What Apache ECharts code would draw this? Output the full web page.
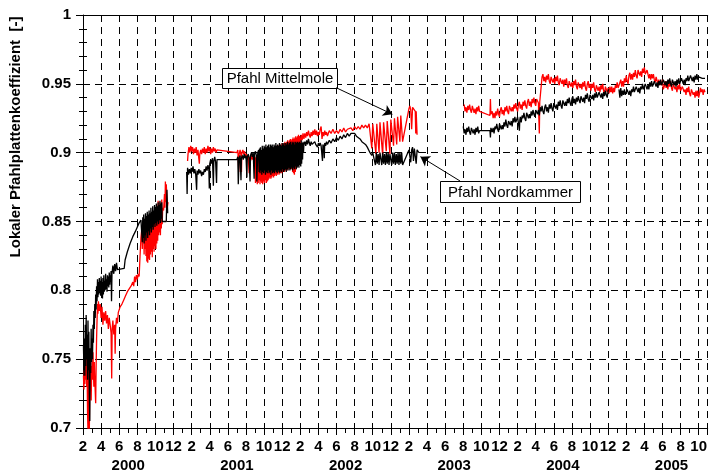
<!DOCTYPE html>
<html>
<head>
<meta charset="utf-8">
<script src="https://cdn.jsdelivr.net/npm/echarts@6/dist/echarts.min.js"></script>
<style>
html, body { margin: 0; padding: 0; background: #fff; }
#chart { width: 710px; height: 474px; }
</style>
</head>
<body>
<div id="chart"></div>
<script>
// Time axis in months counted from December 1999 (2 = Feb 2000, 14 = Feb 2001, ...)
const yearLabels = ['2000', '2001', '2002', '2003', '2004', '2005'];
const yearLabelMonths = [7, 19, 31, 43, 55, 67];
const yTitle = 'Lokaler Pfahlplattenkoeffizient  [-]';

// Pfahl Nordkammer  [month, coefficient]
const nordkammer2000 = [
  [2.05,0.76],[2.1,0.742],[2.15,0.765],[2.2,0.738],[2.25,0.775],[2.3,0.745],[2.35,0.782],[2.4,0.75],[2.45,0.768],[2.5,0.735],
  [2.55,0.778],[2.6,0.742],[2.65,0.77],[2.7,0.725],[2.75,0.705],[2.8,0.758],[2.85,0.74],[2.9,0.772],[2.95,0.748],[3.0,0.765],
  [3.05,0.75],[3.1,0.775],[3.15,0.762],[3.2,0.785],[3.25,0.772],[3.3,0.79],[3.35,0.78],[3.4,0.797],[3.45,0.786],[3.5,0.803],
  [3.55,0.792],[3.6,0.808],[3.65,0.795],[3.7,0.806],[3.75,0.797],[3.8,0.809],[3.85,0.798],[3.9,0.807],[3.95,0.796],[4.0,0.81],
  [4.05,0.798],[4.1,0.806],[4.15,0.794],[4.2,0.809],[4.25,0.797],[4.3,0.811],[4.35,0.799],[4.4,0.807],[4.45,0.8],[4.5,0.812],
  [4.55,0.801],[4.6,0.808],[4.65,0.799],[4.7,0.811],[4.75,0.803],[4.8,0.81],[4.85,0.802],[4.9,0.813],[4.95,0.804],[5.0,0.811],
  [5.05,0.806],[5.1,0.814],[5.15,0.792],[5.2,0.812],[5.3,0.818],[5.4,0.812],[5.5,0.819],[5.6,0.814],[5.7,0.82],[5.8,0.815],
  [5.9,0.816],[6.55,0.816],[6.65,0.822],[6.9,0.828],[7.2,0.834],[7.5,0.839],[7.8,0.843],[8.0,0.846],[8.2,0.849],[8.4,0.851],
  [8.55,0.835],[8.6,0.853],[8.65,0.838],[8.7,0.855],[8.75,0.834],[8.8,0.852],[8.85,0.84],[8.9,0.856],[8.95,0.836],[9.0,0.854],
  [9.05,0.842],[9.1,0.857],[9.15,0.838],[9.2,0.855],[9.25,0.843],[9.3,0.858],[9.35,0.84],[9.4,0.856],[9.45,0.845],[9.5,0.86],
  [9.55,0.842],[9.6,0.857],[9.65,0.846],[9.7,0.861],[9.75,0.844],[9.8,0.858],[9.85,0.848],[9.9,0.862],[9.95,0.846],[10.0,0.86],
  [10.05,0.849],[10.1,0.863],[10.15,0.847],[10.2,0.861],[10.25,0.85],[10.3,0.864],[10.35,0.848],[10.4,0.862],[10.45,0.851],[10.5,0.865],
  [10.55,0.849],[10.6,0.863],[10.65,0.852],[10.7,0.864],[10.75,0.85],[10.8,0.851],[11.2,0.85],[11.27,0.873],[11.35,0.856]
];
const nordkammer2001 = [
  [13.45,0.886],[13.5,0.87],[13.55,0.889],[13.65,0.884],[13.75,0.888],[13.85,0.885],[13.95,0.889],[14.05,0.886],[14.15,0.89],[14.25,0.885],
  [14.35,0.888],[14.45,0.884],[14.55,0.873],[14.6,0.887],[14.7,0.884],[14.8,0.888],[14.9,0.885],[15.0,0.887],[15.1,0.883],[15.2,0.886],
  [15.3,0.884],[15.4,0.888],[15.5,0.886],[15.6,0.89],[15.7,0.887],[15.8,0.891],[15.9,0.888],[15.95,0.874],[16.0,0.892],[16.1,0.895],
  [16.2,0.892],[16.3,0.896],[16.4,0.876],[16.45,0.894],[16.55,0.897],[16.65,0.893],[16.75,0.878],[16.8,0.895],[16.9,0.894],[19.0,0.895],
  [19.1,0.897],[19.15,0.877],[19.25,0.896],[19.35,0.898],[19.45,0.88],[19.5,0.896],[19.6,0.898],[19.7,0.895],[19.8,0.899],[19.9,0.896],
  [20.0,0.898],[20.1,0.882],[20.15,0.897],[20.25,0.899],[20.35,0.896],[20.45,0.879],[20.5,0.898],[20.6,0.9],[20.7,0.897],[20.8,0.9],
  [20.9,0.881],[20.95,0.899],[21.05,0.901],[21.15,0.898],[21.2,0.879],[21.3,0.9],[21.4,0.902],
  [21.45,0.886],[21.5,0.903],[21.55,0.885],[21.6,0.904],[21.65,0.887],[21.7,0.902],[21.75,0.884],[21.8,0.905],[21.85,0.886],[21.9,0.903],
  [21.95,0.885],[22.0,0.905],[22.05,0.887],[22.1,0.904],[22.15,0.884],[22.2,0.906],[22.25,0.886],[22.3,0.904],[22.35,0.885],[22.4,0.905],
  [22.45,0.887],[22.5,0.906],[22.55,0.885],[22.6,0.904],[22.65,0.886],[22.7,0.906],[22.75,0.884],[22.8,0.905],[22.85,0.887],[22.9,0.906],
  [22.95,0.885],[23.0,0.904],[23.05,0.886],[23.1,0.906],[23.15,0.885],[23.2,0.905],[23.25,0.887],[23.3,0.907],[23.35,0.886],[23.4,0.905],
  [23.45,0.885],[23.5,0.906],[23.55,0.887],[23.6,0.905],[23.65,0.886],[23.7,0.907],[23.75,0.885],[23.8,0.906],[23.85,0.887],[23.9,0.905],
  [23.95,0.886],[24.0,0.907],[24.05,0.888],[24.1,0.906],[24.15,0.886],[24.2,0.907],[24.25,0.887],[24.3,0.905],[24.35,0.888],[24.4,0.907],
  [24.45,0.886],[24.5,0.906],[24.55,0.888],[24.6,0.908],[24.65,0.887],[24.7,0.906],[24.75,0.889],[24.8,0.907],[24.85,0.887],[24.9,0.908],
  [24.95,0.888],[25.0,0.906],[25.05,0.889],[25.1,0.908],[25.15,0.887],[25.2,0.907],[25.25,0.889],[25.3,0.908],[25.35,0.888],[25.4,0.906],
  [25.45,0.89],[25.5,0.908],[25.55,0.888],[25.6,0.907],[25.65,0.889],[25.7,0.908],[25.75,0.89],[25.8,0.907],[25.85,0.889],[25.9,0.908],
  [25.95,0.891],[26.0,0.907],[26.05,0.89],[26.1,0.909],[26.15,0.892],[26.2,0.907],[26.25,0.895],[26.3,0.908],[26.35,0.9],
  [26.4,0.906],[26.5,0.908],[26.6,0.905],[26.7,0.909],[26.8,0.906],[26.9,0.91],[27.0,0.907],[27.1,0.905],[27.2,0.908],[27.3,0.906],
  [27.4,0.907],[27.5,0.905],[27.6,0.908],[27.7,0.906],[27.8,0.907],[27.9,0.904],[28.0,0.907],[28.1,0.905],[28.2,0.907],[28.3,0.905],
  [28.45,0.894],[28.5,0.906],[28.6,0.904],[28.65,0.896],[28.7,0.907],[28.8,0.905],[28.9,0.908],[29.0,0.906],[29.2,0.909],[29.4,0.907],
  [29.6,0.91],[29.8,0.908],[30.0,0.911],[30.2,0.909],[30.4,0.912],[30.6,0.91],[30.8,0.913],[31.0,0.911],[31.2,0.914],[31.4,0.912],
  [31.6,0.914],[31.8,0.913],[32.0,0.914],[32.2,0.912],[32.4,0.911],[32.6,0.91],[32.8,0.908],[33.0,0.907],[33.2,0.906],[33.4,0.904],
  [33.6,0.903],[33.7,0.9],[33.8,0.901],[33.9,0.898],[34.0,0.9],[34.1,0.899],[34.2,0.9],
  [34.3,0.891],[34.4,0.9],[34.5,0.892],[34.6,0.899],[34.7,0.891],[34.8,0.9],[34.9,0.899],[35.0,0.891],[35.1,0.9],[35.2,0.892],
  [35.3,0.899],[35.4,0.891],[35.5,0.9],[35.6,0.892],[35.7,0.9],[35.8,0.891],[35.9,0.899],[36.0,0.9],[36.1,0.891],[36.2,0.9],
  [36.3,0.892],[36.4,0.9],[36.5,0.891],[36.6,0.899],[36.7,0.892],[36.8,0.9],[36.9,0.891],[37.0,0.9],[37.1,0.892],[37.2,0.9],
  [37.3,0.891],[38.0,0.902],[38.1,0.903],[38.2,0.893],[38.3,0.902],[38.4,0.904],[38.5,0.894],[38.6,0.903],[38.7,0.902],[38.8,0.892],
  [38.9,0.902],[39.0,0.901],[39.1,0.9]
];
const nordkammer2003 = [
  [44.0,0.919],[44.1,0.914],[44.2,0.917],[44.3,0.913],[44.4,0.918],[44.5,0.915],[44.6,0.919],[44.7,0.915],[44.8,0.913],[44.9,0.918],
  [45.0,0.919],[45.1,0.914],[45.2,0.917],[45.3,0.913],[45.4,0.918],[45.5,0.915],[45.6,0.919],[45.7,0.914],[45.8,0.916],[46.95,0.916],
  [47.0,0.911],[47.05,0.918],[47.1,0.919],[47.2,0.915],[47.3,0.918],[47.4,0.914],[47.5,0.919],[47.6,0.917],[47.7,0.921],[47.8,0.917],
  [47.9,0.915],[48.0,0.921],[48.1,0.922],[48.2,0.917],[48.3,0.92],[48.4,0.917],[48.5,0.922],[48.6,0.919],[48.7,0.924],[48.8,0.92],
  [48.9,0.918],[49.0,0.923],[49.1,0.924],[49.2,0.92],[49.3,0.923],[49.4,0.919],[49.5,0.925],[49.6,0.922],[49.7,0.926],[49.8,0.922],
  [49.9,0.921],[50.0,0.926],[50.1,0.927],[50.2,0.916],[50.25,0.924],[50.3,0.926],[50.4,0.922],[50.5,0.927],[50.6,0.925],[50.7,0.929],
  [50.8,0.925],[50.9,0.923],[51.0,0.929],[51.1,0.93],[51.2,0.925],[51.3,0.928],[51.4,0.925],[51.5,0.93],[51.6,0.927],[51.7,0.931],
  [51.8,0.928],[51.9,0.926],[52.0,0.931],[52.1,0.932],[52.2,0.928],[52.3,0.931],[52.4,0.927],[52.5,0.933],[52.6,0.93],[52.7,0.934],
  [52.8,0.93],[52.9,0.928],[53.0,0.933],[53.1,0.935],[53.2,0.93],[53.3,0.933],[53.4,0.929],[53.5,0.935],[53.6,0.932],[53.7,0.936],
  [53.8,0.932],[53.9,0.93],[54.0,0.936],[54.1,0.937],[54.2,0.932],[54.3,0.935],[54.4,0.931],[54.5,0.937],[54.6,0.934],[54.7,0.938],
  [54.8,0.934],[54.9,0.932],[55.0,0.938],[55.1,0.939],[55.2,0.934],[55.3,0.937],[55.4,0.934],[55.5,0.939],[55.6,0.936],[55.7,0.94],
  [55.8,0.936],[55.9,0.934],[56.0,0.939],[56.1,0.941],[56.2,0.936],[56.3,0.939],[56.4,0.935],[56.5,0.94],[56.6,0.937],[56.7,0.941],
  [56.8,0.938],[56.9,0.936],[57.0,0.941],[57.1,0.942],[57.2,0.937],[57.3,0.94],[57.4,0.936],[57.5,0.942],[57.6,0.939],[57.7,0.943],
  [57.8,0.939],[57.9,0.937],[58.0,0.942],[58.1,0.943],[58.2,0.939],[58.3,0.942],[58.4,0.938],[58.5,0.943],[58.6,0.94],[58.7,0.944],
  [58.8,0.94],[58.9,0.939],[59.0,0.944],[59.1,0.945],[59.2,0.94],[59.3,0.943],[59.4,0.939],[59.5,0.944],[59.6,0.941],[59.7,0.945],
  [59.8,0.942],[59.9,0.94],[60.0,0.945],[60.1,0.946]
];
const nordkammer2004 = [
  [61.2,0.946],[61.3,0.94],[61.4,0.947],[61.5,0.941],[61.6,0.945],[61.7,0.942],[61.8,0.946],[61.9,0.942],[62.0,0.941],[62.1,0.946],
  [62.2,0.947],[62.3,0.942],[62.4,0.945],[62.5,0.941],[62.6,0.946],[62.7,0.944],[62.8,0.948],[62.9,0.944],[63.0,0.943],[63.1,0.948],
  [63.2,0.949],[63.3,0.944],[63.4,0.947],[63.5,0.943],[63.6,0.948],[63.7,0.946],[63.8,0.95],[63.9,0.946],[64.0,0.945],[64.1,0.95],
  [64.2,0.951],[64.3,0.946],[64.4,0.949],[64.5,0.946],[64.6,0.951],[64.7,0.948],[64.8,0.952],[64.9,0.948],[65.0,0.947],[65.1,0.952],
  [65.2,0.953],[65.3,0.948],[65.4,0.951],[65.5,0.947],[65.6,0.952],[65.7,0.949],[65.8,0.953],[65.9,0.949],[66.0,0.948],[66.1,0.953],
  [66.2,0.954],[66.3,0.949],[66.4,0.952],[66.5,0.948],[66.6,0.953],[66.7,0.95],[66.8,0.954],[66.9,0.95],[67.0,0.948],[67.1,0.953],
  [67.2,0.954],[67.3,0.949],[67.4,0.952],[67.5,0.948],[67.6,0.953],[67.7,0.95],[67.8,0.954],[67.9,0.95],[68.0,0.949],[68.1,0.954],
  [68.2,0.955],[68.3,0.95],[68.4,0.953],[68.5,0.949],[68.6,0.954],[68.7,0.952],[68.8,0.956],[68.9,0.952],[69.0,0.951],[69.1,0.956],
  [69.2,0.957],[69.3,0.952],[69.4,0.955],[69.5,0.951],[69.6,0.956],[69.7,0.953],[69.8,0.957],[69.9,0.953],[70.0,0.955],[70.2,0.954],
  [70.4,0.954],[70.7,0.954]
];

// Pfahl Mittelmole  [month, coefficient]
const mittelmole2000 = [
  [2.05,0.738],[2.1,0.728],[2.15,0.742],[2.2,0.732],[2.25,0.748],[2.3,0.735],[2.35,0.752],[2.4,0.73],[2.45,0.745],[2.5,0.712],
  [2.55,0.698],[2.6,0.735],[2.65,0.75],[2.7,0.698],[2.75,0.74],[2.8,0.728],[2.85,0.745],[2.9,0.72],[2.95,0.738],[3.0,0.748],
  [3.05,0.735],[3.1,0.755],[3.15,0.742],[3.2,0.73],[3.25,0.748],[3.3,0.735],[3.4,0.718],[3.45,0.745],[3.5,0.765],[3.55,0.778],
  [3.6,0.79],[3.65,0.783],[3.7,0.792],[3.8,0.785],[3.9,0.79],[4.0,0.78],[4.1,0.788],[4.2,0.775],[4.3,0.784],[4.4,0.778],
  [4.5,0.785],[4.6,0.776],[4.7,0.782],[4.8,0.772],[4.9,0.78],[5.0,0.775],[5.1,0.769],[5.17,0.736],[5.22,0.772],[5.3,0.778],
  [5.4,0.768],[5.5,0.775],[5.55,0.754],[5.6,0.772],[5.7,0.78],[5.8,0.776],[5.9,0.784],[6.1,0.788],[6.3,0.79],[6.5,0.793],
  [6.7,0.796],[6.9,0.799],[7.1,0.8],[7.3,0.803],[7.5,0.806],[7.6,0.803],[7.7,0.81],[7.8,0.806],[7.9,0.811],[8.0,0.808],
  [8.1,0.812],[8.2,0.81],[8.3,0.825],[8.4,0.838],[8.5,0.845],
  [8.55,0.83],[8.6,0.85],[8.65,0.835],[8.7,0.848],[8.75,0.826],[8.8,0.845],[8.85,0.83],[8.9,0.852],[8.95,0.825],[9.0,0.848],
  [9.05,0.821],[9.1,0.846],[9.15,0.82],[9.2,0.85],[9.25,0.823],[9.3,0.848],[9.35,0.822],[9.4,0.852],[9.45,0.826],[9.5,0.85],
  [9.55,0.828],[9.6,0.854],[9.65,0.824],[9.7,0.852],[9.75,0.83],[9.8,0.856],[9.85,0.828],[9.9,0.855],[9.95,0.832],[10.0,0.858],
  [10.05,0.83],[10.1,0.857],[10.15,0.834],[10.2,0.86],[10.25,0.836],[10.3,0.865],[10.35,0.84],[10.4,0.862],[10.45,0.842],[10.5,0.864],
  [10.55,0.84],[10.6,0.862],[10.65,0.845],[10.7,0.866],[10.75,0.848],[10.8,0.86],[10.9,0.858],[11.0,0.87],[11.05,0.86],[11.1,0.879],
  [11.15,0.864],[11.2,0.877],[11.3,0.86],[11.4,0.864]
];
const mittelmole2001 = [
  [13.55,0.894],[13.6,0.899],[13.7,0.904],[13.8,0.9],[13.9,0.905],[14.0,0.901],[14.1,0.904],[14.2,0.899],[14.3,0.903],[14.4,0.9],
  [14.5,0.904],[14.6,0.898],[14.7,0.902],[14.8,0.895],[14.85,0.892],[14.9,0.899],[15.0,0.902],[15.1,0.899],[15.2,0.903],[15.3,0.9],
  [15.4,0.904],[15.5,0.899],[15.6,0.903],[15.7,0.9],[15.8,0.905],[15.9,0.901],[16.0,0.904],[16.1,0.899],[16.2,0.903],[16.3,0.9],
  [16.4,0.904],[16.5,0.901],[16.6,0.903],[16.7,0.9],[16.8,0.902],[16.9,0.901],[19.0,0.9],[19.1,0.902],[19.2,0.886],[19.25,0.899],
  [19.35,0.902],[19.45,0.898],[19.5,0.886],[19.55,0.9],[19.65,0.902],[19.75,0.899],[19.85,0.901],[19.95,0.897],[20.05,0.899],[20.15,0.895],
  [20.25,0.898],[20.35,0.885],[20.4,0.897],[20.5,0.894],[20.6,0.898],[20.7,0.895],[20.8,0.897],[20.9,0.893],[21.0,0.896],
  [21.05,0.878],[21.1,0.897],[21.15,0.879],[21.2,0.896],[21.25,0.877],[21.3,0.898],[21.35,0.878],[21.4,0.897],[21.45,0.88],[21.5,0.899],
  [21.55,0.877],[21.6,0.898],[21.65,0.879],[21.7,0.9],[21.75,0.878],[21.8,0.899],[21.85,0.877],[21.9,0.9],[21.95,0.879],[22.0,0.899],
  [22.05,0.878],[22.1,0.901],[22.15,0.88],[22.2,0.9],[22.25,0.878],[22.3,0.901],[22.35,0.879],[22.4,0.902],[22.45,0.88],[22.5,0.901],
  [22.55,0.881],[22.6,0.901],[22.65,0.882],[22.7,0.902],[22.75,0.881],[22.8,0.903],[22.85,0.882],[22.9,0.902],[22.95,0.883],[23.0,0.903],
  [23.05,0.882],[23.1,0.904],[23.15,0.883],[23.2,0.903],[23.25,0.884],[23.3,0.904],[23.35,0.883],[23.4,0.905],[23.45,0.884],[23.5,0.904],
  [23.55,0.885],[23.6,0.905],[23.65,0.884],[23.7,0.906],[23.75,0.885],[23.8,0.905],[23.85,0.886],[23.9,0.906],[23.95,0.885],[24.0,0.907],
  [24.05,0.886],[24.1,0.906],[24.15,0.887],[24.2,0.907],[24.25,0.886],[24.3,0.908],[24.35,0.887],[24.4,0.907],[24.45,0.888],[24.5,0.908],
  [24.55,0.887],[24.6,0.909],[24.65,0.888],[24.7,0.908],[24.75,0.889],[24.8,0.909],[24.85,0.888],[24.9,0.91],[24.95,0.889],[25.0,0.909],
  [25.05,0.888],[25.1,0.91],[25.15,0.886],[25.2,0.911],[25.25,0.885],[25.3,0.91],[25.35,0.884],[25.4,0.911],[25.45,0.886],[25.5,0.912],
  [25.55,0.888],[25.6,0.911],[25.65,0.89],[25.7,0.912],[25.75,0.893],[25.8,0.913],[25.85,0.897],[25.9,0.912],[26.0,0.905],[26.1,0.913],
  [26.2,0.909],[26.3,0.914],
  [26.4,0.91],[26.5,0.914],[26.6,0.911],[26.7,0.915],[26.8,0.912],[26.9,0.916],[27.0,0.913],[27.1,0.911],[27.2,0.915],[27.3,0.912],
  [27.4,0.916],[27.5,0.913],[27.6,0.917],[27.7,0.913],[27.8,0.916],[27.9,0.912],[28.0,0.915],[28.1,0.913],[28.2,0.917],[28.3,0.919],
  [28.4,0.91],[28.5,0.915],[28.6,0.912],[28.7,0.916],[28.8,0.913],[28.9,0.915],[29.0,0.912],[29.2,0.916],[29.4,0.914],[29.6,0.917],
  [29.8,0.914],[30.0,0.916],[30.2,0.914],[30.4,0.917],[30.6,0.915],[30.8,0.918],[31.0,0.915],[31.2,0.917],[31.4,0.916],[31.6,0.918],
  [31.8,0.916],[32.0,0.919],[32.2,0.917],[32.4,0.919],[32.6,0.917],[32.8,0.92],[33.0,0.918],[33.2,0.92],[33.4,0.918],[33.6,0.921],
  [33.8,0.92],[33.9,0.903],[34.0,0.921],[34.2,0.92],[34.35,0.899],[34.45,0.921],[34.6,0.922],[34.7,0.9],[34.8,0.922],[35.0,0.921],
  [35.1,0.898],[35.2,0.922],[35.4,0.923],[35.5,0.901],[35.6,0.923],[35.8,0.922],[35.9,0.899],[36.0,0.924],[36.2,0.924],[36.3,0.905],
  [36.4,0.925],[36.55,0.926],[36.65,0.906],[36.75,0.926],[36.9,0.927],[37.0,0.908],[37.1,0.927],[37.2,0.926],[37.3,0.908],[38.0,0.932],
  [38.1,0.934],[38.2,0.931],[38.3,0.917],[38.4,0.933],[38.5,0.932],[38.6,0.934],[38.7,0.93],[38.75,0.914],[38.8,0.93],[38.9,0.913]
];
const mittelmole2003 = [
  [44.1,0.935],[44.2,0.93],[44.3,0.933],[44.4,0.929],[44.5,0.934],[44.6,0.931],[44.7,0.935],[44.8,0.931],[44.9,0.929],[45.0,0.934],
  [45.1,0.934],[45.2,0.929],[45.3,0.932],[45.4,0.928],[45.5,0.933],[45.6,0.93],[45.7,0.934],[45.8,0.93],[46.95,0.927],[47.0,0.939],
  [47.05,0.928],[47.2,0.93],[47.3,0.925],[47.4,0.929],[47.5,0.925],[47.6,0.93],[47.7,0.927],[47.8,0.932],[47.9,0.928],[48.0,0.926],
  [48.1,0.931],[48.2,0.933],[48.3,0.928],[48.4,0.931],[48.5,0.927],[48.6,0.933],[48.7,0.93],[48.8,0.934],[48.9,0.93],[49.0,0.928],
  [49.1,0.934],[49.2,0.935],[49.3,0.93],[49.4,0.933],[49.5,0.93],[49.6,0.935],[49.7,0.932],[49.8,0.936],[49.9,0.932],[50.0,0.93],
  [50.1,0.935],[50.2,0.937],[50.3,0.932],[50.4,0.935],[50.5,0.931],[50.6,0.937],[50.7,0.934],[50.8,0.938],[50.9,0.934],[51.0,0.932],
  [51.1,0.937],[51.2,0.939],[51.3,0.934],[51.4,0.937],[51.5,0.933],[51.6,0.939],[51.7,0.936],[51.8,0.94],[51.9,0.936],[52.0,0.934],
  [52.1,0.939],[52.2,0.94],[52.3,0.936],[52.4,0.914],[52.45,0.937],[52.7,0.955],[52.8,0.957],[52.9,0.952],[53.0,0.955],[53.1,0.951],
  [53.2,0.956],[53.3,0.953],[53.4,0.957],[53.5,0.952],[53.6,0.95],[53.7,0.955],[53.8,0.956],[53.9,0.951],[54.0,0.954],[54.1,0.95],
  [54.2,0.955],[54.3,0.952],[54.4,0.956],[54.5,0.951],[54.6,0.949],[54.7,0.954],[54.8,0.955],[54.9,0.95],[55.0,0.953],[55.1,0.948],
  [55.2,0.953],[55.3,0.95],[55.4,0.954],[55.5,0.949],[55.6,0.947],[55.7,0.952],[55.8,0.953],[55.9,0.948],[56.0,0.951],[56.1,0.947],
  [56.2,0.952],[56.3,0.949],[56.4,0.953],[56.5,0.948],[56.6,0.946],[56.7,0.951],[56.8,0.952],[56.9,0.947],[57.0,0.95],[57.1,0.946],
  [57.2,0.951],[57.3,0.948],[57.4,0.952],[57.5,0.947],[57.6,0.945],[57.7,0.95],[57.8,0.952],[57.9,0.947],[58.0,0.95],[58.1,0.945],
  [58.2,0.95],[58.3,0.947],[58.4,0.951],[58.5,0.946],[58.6,0.944],[58.7,0.949],[58.8,0.95],[58.9,0.945],[59.0,0.948],[59.1,0.944],
  [59.2,0.949],[59.3,0.946],[59.4,0.95],[59.5,0.945],[59.6,0.943],[59.7,0.948],[59.8,0.949],[59.9,0.944],[60.0,0.947],[60.1,0.943],
  [60.2,0.948],[60.3,0.944],[60.4,0.948],[60.5,0.943],[60.6,0.947],[60.7,0.944],[60.8,0.949],[60.9,0.947],[61.0,0.951],[61.1,0.947],
  [61.2,0.946],[61.3,0.951],[61.4,0.953],[61.5,0.948],[61.6,0.952],[61.7,0.948],[61.8,0.954],[61.9,0.951],[62.0,0.956],[62.1,0.952],
  [62.2,0.95],[62.3,0.956],[62.4,0.958],[62.5,0.953],[62.6,0.957],[62.7,0.953],[62.8,0.958],[62.9,0.955],[63.0,0.96],[63.1,0.956],
  [63.2,0.954],[63.3,0.96],[63.4,0.961],[63.5,0.956],[63.6,0.959],[63.7,0.955],[63.8,0.961],[63.9,0.958],[64.0,0.962],[64.1,0.957],
  [64.2,0.956],[64.3,0.96],[64.4,0.959],[64.5,0.954],[64.6,0.957],[64.7,0.953],[64.8,0.957],[64.9,0.954],[65.0,0.957],[65.1,0.953],
  [65.2,0.951],[65.3,0.955],[65.4,0.955],[65.5,0.95],[65.6,0.953],[65.7,0.949],[65.8,0.952],[65.9,0.949],[66.0,0.953],[66.1,0.946],
  [66.2,0.948],[66.3,0.952],[66.4,0.947],[66.5,0.95],[66.6,0.946],[66.7,0.951],[66.8,0.948],[66.9,0.952],[67.0,0.947],[67.1,0.945],
  [67.2,0.95],[67.3,0.951],[67.4,0.946],[67.5,0.948],[67.6,0.944],[67.7,0.949],[67.8,0.946],[67.9,0.95],[68.0,0.945],[68.1,0.944],
  [68.2,0.948],[68.3,0.949],[68.4,0.944],[68.5,0.946],[68.6,0.942],[68.7,0.947],[68.8,0.944],[68.9,0.948],[69.0,0.943],[69.1,0.941],
  [69.2,0.946],[69.3,0.947],[69.4,0.942],[69.5,0.944],[69.6,0.94],[69.7,0.945],[69.8,0.941],[69.9,0.945],[70.0,0.94],[70.1,0.943],
  [70.2,0.947],[70.3,0.944],[70.4,0.946],[70.5,0.942],[70.6,0.946],[70.7,0.944]
];

// Join measurement campaigns, leaving a break between them
function joinSegments(segments) {
  const out = [];
  segments.forEach((seg, i) => {
    if (i > 0) out.push([seg[0][0] - 0.01, '-']);
    seg.forEach(p => out.push(p));
  });
  return out;
}
const mittelmoleData = joinSegments([mittelmole2000, mittelmole2001, mittelmole2003]);
const nordkammerData = joinSegments([nordkammer2000, nordkammer2001, nordkammer2003, nordkammer2004]);

const FONT = '"Liberation Sans", Arial, Helvetica, sans-serif';
const BLACK = '#000';
const dashed = { show: true, lineStyle: { color: BLACK, width: 1, type: [7, 5] } };
const labelBold = { color: BLACK, fontFamily: FONT, fontWeight: 'bold', fontSize: 15 };
const X_MIN = 2, X_MAX = 71;
const calloutLine = {
  silent: true, animation: false, symbol: ['none', 'arrow'], symbolSize: 9,
  label: { show: false }, lineStyle: { color: BLACK, width: 1, type: 'solid' },
  emphasis: { disabled: true }
};

const chart = echarts.init(document.getElementById('chart'), null, { renderer: 'canvas' });

const option = {
  animation: false,
  backgroundColor: '#fff',
  grid: { left: 83, top: 15, width: 630, height: 413, containLabel: false },
  xAxis: [
    {
      type: 'value', min: X_MIN, max: X_MAX, interval: 2, position: 'bottom',
      axisLine: { show: true, lineStyle: { color: BLACK, width: 1 } },
      axisTick: { show: true, length: 7, lineStyle: { color: BLACK, width: 1 } },
      minorTick: { show: true, splitNumber: 2, length: 5, lineStyle: { color: BLACK, width: 1 } },
      splitLine: dashed,
      axisLabel: Object.assign({ interval: 0, margin: 11, showMinLabel: true, showMaxLabel: false,
        formatter: v => String(((Math.round(v) - 1) % 12) + 1) }, labelBold)
    },
    {
      type: 'value', min: X_MIN, max: X_MAX, position: 'bottom',
      axisLine: { show: false }, axisTick: { show: false }, splitLine: { show: false },
      axisLabel: Object.assign({ customValues: yearLabelMonths, margin: 30,
        formatter: v => yearLabels[yearLabelMonths.indexOf(Math.round(v))] }, labelBold)
    },
    {
      type: 'value', min: X_MIN, max: X_MAX, interval: 2, position: 'bottom',
      axisLine: { show: false }, splitLine: { show: false }, axisLabel: { show: false },
      axisTick: { show: true, inside: true, length: 4, lineStyle: { color: BLACK, width: 1 } }
    },
    {
      type: 'value', min: X_MIN, max: X_MAX, interval: 2, position: 'top',
      axisLine: { show: true, lineStyle: { color: BLACK, width: 1 } },
      splitLine: { show: false }, axisLabel: { show: false },
      axisTick: { show: true, inside: true, length: 4, lineStyle: { color: BLACK, width: 1 } }
    }
  ],
  yAxis: [
    {
      type: 'value', min: 0.7, max: 1, interval: 0.05, position: 'left',
      axisLine: { show: true, lineStyle: { color: BLACK, width: 1 } },
      axisTick: { show: true, length: 7, lineStyle: { color: BLACK, width: 1 } },
      minorTick: { show: true, splitNumber: 5, length: 4, lineStyle: { color: BLACK, width: 1 } },
      splitLine: dashed,
      axisLabel: Object.assign({ margin: 12 }, labelBold)
    },
    {
      type: 'value', min: 0.7, max: 1, interval: 0.05, position: 'left',
      axisLine: { show: false }, splitLine: { show: false }, axisLabel: { show: false },
      axisTick: { show: true, inside: true, length: 4, lineStyle: { color: BLACK, width: 1 } },
      minorTick: { show: true, splitNumber: 5, length: 4, lineStyle: { color: BLACK, width: 1 } }
    }
  ],
  series: [
    {
      name: 'Pfahl Mittelmole', type: 'line', data: mittelmoleData,
      xAxisIndex: 0, yAxisIndex: 0, symbol: 'none', showSymbol: false, connectNulls: false,
      lineStyle: { color: '#ff0000', width: 1.3 }, itemStyle: { color: '#ff0000' },
      emphasis: { disabled: true }, silent: true, z: 2,
      markLine: Object.assign({
        data: [[{ coord: [29.96, 0.9472] }, { coord: [36.17, 0.9279] }]]
      }, calloutLine)
    },
    {
      name: 'Pfahl Nordkammer', type: 'line', data: nordkammerData,
      xAxisIndex: 0, yAxisIndex: 0, symbol: 'none', showSymbol: false, connectNulls: false,
      lineStyle: { color: BLACK, width: 1.3 }, itemStyle: { color: BLACK },
      emphasis: { disabled: true }, silent: true, z: 3,
      markLine: Object.assign({
        data: [[{ coord: [43.65, 0.8794] }, { coord: [39.27, 0.8971] }]]
      }, calloutLine)
    }
  ]
};
chart.setOption(option);

// Callout boxes anchored at data positions (top-left corner)
const callouts = [
  { text: 'Pfahl Mittelmole', at: [17.3, 0.9613], w: 115, h: 20 },
  { text: 'Pfahl Nordkammer', at: [41.46, 0.8794], w: 140, h: 21 }
];
const graphics = callouts.map(c => {
  const p = chart.convertToPixel({ xAxisIndex: 0, yAxisIndex: 0 }, c.at);
  return {
    type: 'group', x: Math.round(p[0]) + 0.5, y: Math.round(p[1]) + 0.5, z: 10,
    children: [
      { type: 'rect', shape: { x: 0, y: 0, width: c.w, height: c.h },
        style: { fill: '#fff', stroke: BLACK, lineWidth: 1 } },
      { type: 'text', x: c.w / 2, y: c.h / 2 + 0.5,
        style: { text: c.text, fill: BLACK, font: '15px ' + FONT, align: 'center', verticalAlign: 'middle' } }
    ]
  };
});
graphics.push({
  type: 'text', x: 16, y: 137, rotation: Math.PI / 2, z: 10,
  style: { text: yTitle, fill: BLACK, font: 'bold 15px ' + FONT, align: 'center', verticalAlign: 'middle' }
});
chart.setOption({ graphic: graphics });
</script>
</body>
</html>
